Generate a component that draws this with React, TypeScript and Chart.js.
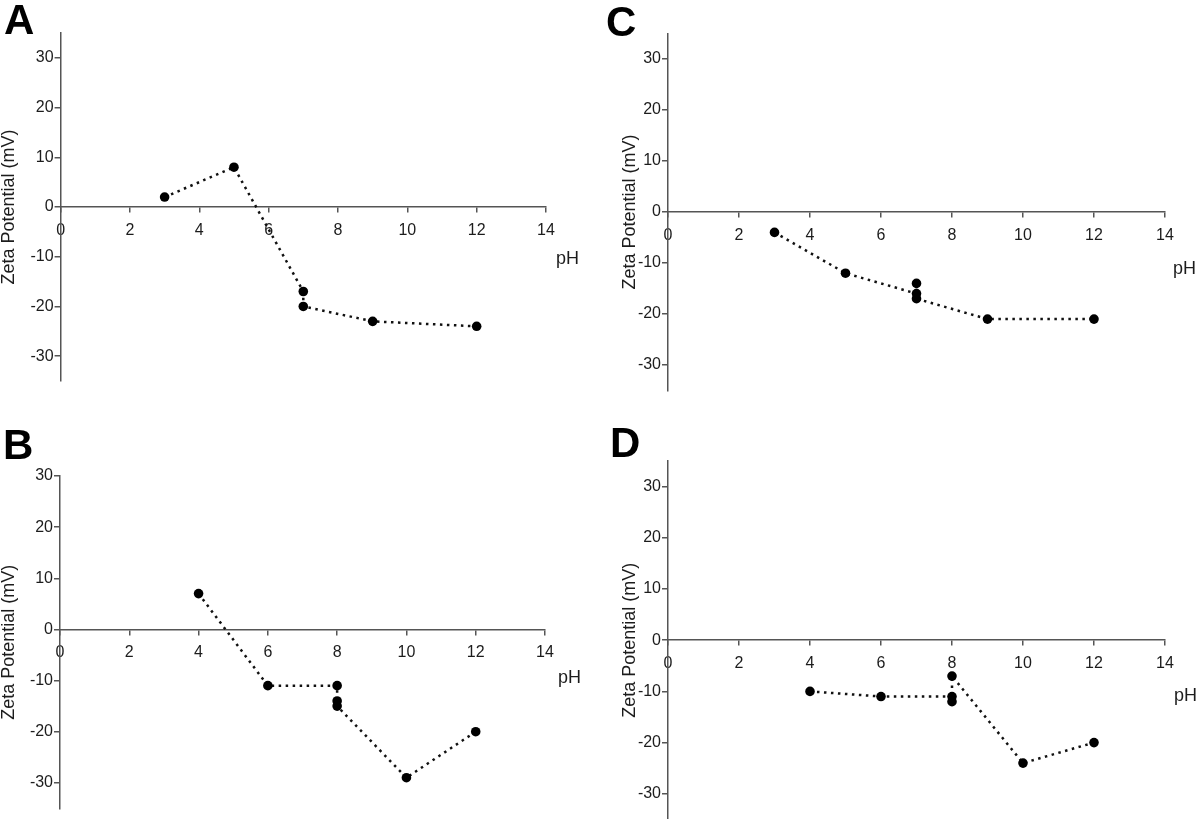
import React, { useEffect, useRef } from "react";
import { Chart, registerables } from "chart.js";

Chart.register(...registerables);

// ---- data ----
const PH_TICKS = [0, 2, 4, 6, 8, 10, 12, 14];
const ZETA_TICKS = [-30, -20, -10, 0, 10, 20, 30];

const A_PH = [3, 5, 7, 7, 9, 12];
const A_ZETA = [2, 8, -17, -20, -23, -24];

const B_PH = [4, 6, 8, 8, 8, 10, 12];
const B_ZETA = [7, -11, -11, -14, -15, -29, -20];

const C_PH = [3, 5, 7, 7, 7, 9, 12];
const C_ZETA = [-4, -12, -16, -14, -17, -21, -21];

const D_PH = [4, 6, 8, 8, 8, 10, 12];
const D_ZETA = [-10, -11, -11, -12, -7, -24, -20];

const X_TITLE = "pH";
const Y_TITLE = "Zeta Potential (mV)";
const LETTERS = ["A", "B", "C", "D"];

// ---- layout / style ----
const FONT = '"Liberation Sans", Arial, Helvetica, sans-serif';
const AXIS_COLOR = "#555555";
const TEXT_COLOR = "#1c1c1c";

type PanelCfg = {
  letter: string;
  ph: number[];
  zeta: number[];
  yMin: number;
  yMax: number;
  left: number;
  top: number;
  w: number;
  h: number;
  axisW: number;
  pad: { top: number; right: number; bottom: number };
  titlePad: number;
  letterPos: { left: number; top: number };
  phPos: { left: number; top: number };
};

const PANELS: PanelCfg[] = [
  {
    letter: LETTERS[0], ph: A_PH, zeta: A_ZETA, yMin: -35, yMax: 35,
    left: 0, top: 0, w: 600, h: 410, axisW: 60.6,
    pad: { top: 33, right: 54, bottom: 29 }, titlePad: -1.3,
    letterPos: { left: 4, top: -1.5 }, phPos: { left: 556, top: 249 },
  },
  {
    letter: LETTERS[1], ph: B_PH, zeta: B_ZETA, yMin: -35, yMax: 30,
    left: 0, top: 410, w: 600, h: 409, axisW: 60,
    pad: { top: 66, right: 55, bottom: 3 }, titlePad: -1.3,
    letterPos: { left: 3, top: 423.5 }, phPos: { left: 558, top: 668 },
  },
  {
    letter: LETTERS[2], ph: C_PH, zeta: C_ZETA, yMin: -35, yMax: 35,
    left: 600, top: 0, w: 600, h: 410, axisW: 68,
    pad: { top: 33.5, right: 35, bottom: 19.5 }, titlePad: 19.2,
    letterPos: { left: 606, top: 0.5 }, phPos: { left: 1173, top: 259 },
  },
  {
    letter: LETTERS[3], ph: D_PH, zeta: D_ZETA, yMin: -35, yMax: 35,
    left: 600, top: 410, w: 600, h: 420, axisW: 68,
    pad: { top: 51, right: 35, bottom: 5 }, titlePad: 19.2,
    letterPos: { left: 610, top: 421.5 }, phPos: { left: 1174, top: 686 },
  },
];

function Panel({ p }: { p: PanelCfg }) {
  const ref = useRef<HTMLCanvasElement | null>(null);

  useEffect(() => {
    if (!ref.current) return;
    const points = p.ph.map((x, i) => ({ x, y: p.zeta[i] }));
    const chart = new Chart(ref.current, {
      type: "scatter",
      data: {
        datasets: [
          {
            data: points,
            showLine: true,
            borderColor: "#111",
            borderWidth: 2.5,
            borderDash: [2.5, 4.5],
            borderCapStyle: "butt",
            pointRadius: 4.8,
            pointBorderWidth: 0,
            pointBackgroundColor: "#000",
            pointBorderColor: "#000",
            clip: false,
          } as any,
        ],
      },
      options: {
        responsive: false,
        animation: false,
        devicePixelRatio: 1,
        layout: { padding: { left: 0, top: p.pad.top, right: p.pad.right, bottom: p.pad.bottom } },
        plugins: { legend: { display: false }, tooltip: { enabled: false } },
        scales: {
          x: {
            type: "linear",
            position: { y: 0 } as any,
            min: 0,
            max: 14,
            afterBuildTicks: (s: any) => {
              s.ticks = PH_TICKS.map((v) => ({ value: v }));
            },
            grid: {
              drawOnChartArea: false,
              drawTicks: true,
              tickLength: 5,
              color: AXIS_COLOR,
              lineWidth: 1.5,
            },
            border: { display: true, color: AXIS_COLOR, width: 1.5 },
            ticks: {
              padding: 9,
              color: TEXT_COLOR,
              font: { family: FONT, size: 16 },
              maxRotation: 0,
              autoSkip: false,
            },
          },
          y: {
            type: "linear",
            position: "left",
            min: p.yMin,
            max: p.yMax,
            afterBuildTicks: (s: any) => {
              s.ticks = ZETA_TICKS.filter((v) => v >= p.yMin && v <= p.yMax).map((v) => ({ value: v }));
            },
            afterFit: (s: any) => {
              s.width = p.axisW;
            },
            grid: {
              drawOnChartArea: false,
              drawTicks: true,
              tickLength: 6,
              color: AXIS_COLOR,
              lineWidth: 1.5,
            },
            border: { display: true, color: AXIS_COLOR, width: 1.5 },
            ticks: {
              padding: 1,
              color: TEXT_COLOR,
              font: { family: FONT, size: 16 },
              autoSkip: false,
            },
            title: {
              display: true,
              text: Y_TITLE,
              color: TEXT_COLOR,
              font: { family: FONT, size: 18 },
              padding: { top: p.titlePad, bottom: 0 },
            },
          },
        },
      },
    });
    return () => chart.destroy();
  }, [p]);

  return (
    <>
      <canvas
        ref={ref}
        width={p.w}
        height={p.h}
        style={{ position: "absolute", left: p.left, top: p.top, width: p.w, height: p.h }}
      />
      <div
        style={{
          position: "absolute",
          left: p.letterPos.left,
          top: p.letterPos.top,
          fontFamily: FONT,
          fontWeight: 700,
          fontSize: 42,
          lineHeight: "42px",
          color: "#000",
        }}
      >
        {p.letter}
      </div>
      <div
        style={{
          position: "absolute",
          left: p.phPos.left,
          top: p.phPos.top,
          fontFamily: FONT,
          fontSize: 18,
          lineHeight: "18px",
          color: TEXT_COLOR,
        }}
      >
        {X_TITLE}
      </div>
    </>
  );
}

export default function App() {
  return (
    <div
      style={{
        position: "absolute",
        left: 0,
        top: 0,
        width: 1200,
        height: 819,
        overflow: "hidden",
        background: "#fff",
      }}
    >
      {PANELS.map((p) => (
        <Panel key={p.letter} p={p} />
      ))}
    </div>
  );
}
